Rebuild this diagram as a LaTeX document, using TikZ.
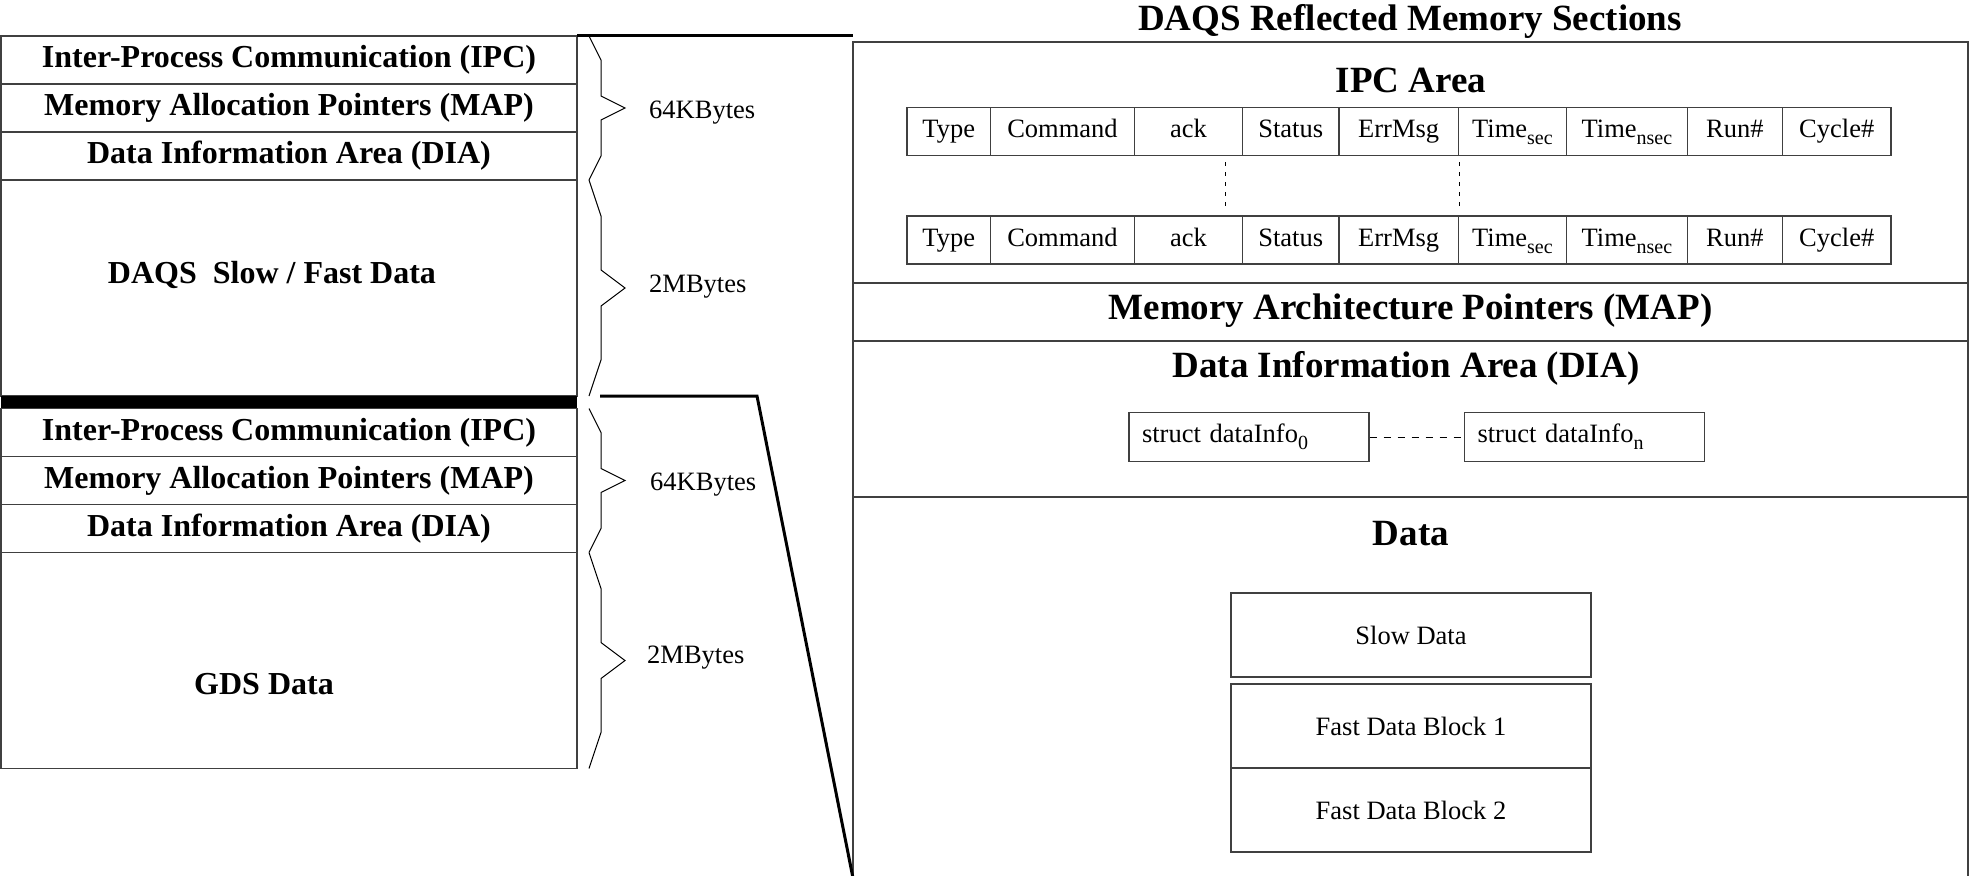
\documentclass[tikz,border=0pt]{standalone}
\usepackage{fontspec}
\setmainfont{Liberation Serif}
\usetikzlibrary{positioning}
\newcommand{\lowsub}[1]{\raisebox{-7pt}{\fontsize{20}{22}\selectfont #1}}
\tikzset{
	memrow/.style={draw=black!75,line width=1.3pt,rectangle,minimum width=576pt,minimum height=48pt,inner sep=0pt,outer sep=0pt,font=\fontsize{32}{36}\selectfont\bfseries},
	memtext/.style={inner sep=0pt,font=\fontsize{32}{36}\selectfont\bfseries},
	rmsect/.style={draw=black!75,line width=1.3pt,rectangle,minimum width=1115pt,inner sep=0pt,outer sep=0pt},
	sechead/.style={inner sep=0pt,font=\fontsize{37}{42}\selectfont\bfseries},
	ipccell/.style={draw=black!75,line width=1.3pt,rectangle,minimum height=48pt,inner sep=0pt,text height=18pt,text depth=6pt,font=\fontsize{26.5}{30}\selectfont},
	infobox/.style={draw=black!75,line width=1.3pt,rectangle,minimum height=48.6pt,text width=214pt,align=left,inner xsep=13pt,inner ysep=0pt,font=\fontsize{26.5}{30}\selectfont},
	datablk/.style={draw=black!75,line width=1.3pt,rectangle,minimum width=360pt,minimum height=84pt,inner sep=0pt,outer sep=0pt,font=\fontsize{26.5}{30}\selectfont},
	sizelbl/.style={anchor=west,inner sep=0pt,font=\fontsize{26.5}{30}\selectfont},
	curly/.style={line width=1pt},
	zoomln/.style={line width=3pt,line join=miter},
	dots/.style={line width=1pt,dash pattern=on 4pt off 6pt}
}
\begin{document}
\begin{tikzpicture}[x=1pt,y=-1pt]
	\useasboundingbox (0,0) rectangle (1969,875);
	\node[memrow] (ipc1) at (289,60) {Inter-Process Communication (IPC)};
	\node[memrow,below=0pt of ipc1] (map1) {Memory Allocation Pointers (MAP)};
	\node[memrow,below=0pt of map1] (dia1) {Data Information Area (DIA)};
	\node[memrow,minimum height=216pt,below=0pt of dia1] (slowfast) {};
	\node[memtext] (slowfasttxt) at (272,275) {DAQS\ \ Slow / Fast Data};
	\node[fill=black,minimum width=576pt,minimum height=12.5pt,inner sep=0pt,outer sep=0pt,below=0pt of slowfast] (sep) {};
	\node[memrow,below=0pt of sep] (ipc2) {Inter-Process Communication (IPC)};
	\node[memrow,below=0pt of ipc2] (map2) {Memory Allocation Pointers (MAP)};
	\node[memrow,below=0pt of map2] (dia2) {Data Information Area (DIA)};
	\node[memrow,minimum height=216pt,below=0pt of dia2] (gds) {};
	\node[memtext] (gdstxt) at (264,684) {GDS Data};
	
	\foreach \ya/\yb in {36/180,180/396,408.5/552.5,552.5/768.5} {
		\pgfmathsetmacro{\h}{\yb-\ya}
		\pgfmathsetmacro{\ym}{(\ya+\yb)/2}
		\draw[curly] (589,\ya) -- (601,{\ya+\h/6}) -- (601,{\ym-\h/12}) -- (625,\ym) -- (601,{\ym+\h/12}) -- (601,{\yb-\h/6}) -- (589,\yb);
	}
	\node[sizelbl] (kb1) at (649,112.7) {64KBytes};
	\node[sizelbl] (mb1) at (649,286.7) {2MBytes};
	\node[sizelbl] (kb2) at (650,485) {64KBytes};
	\node[sizelbl] (mb2) at (647,658) {2MBytes};
	
	\node[sechead] (title) at (1410,21) {DAQS Reflected Memory Sections};
	\node[rmsect,minimum height=241pt] (ipcarea) at (1410.5,162.5) {};
	\node[rmsect,minimum height=58pt,below=0pt of ipcarea] (mapsec) {};
	\node[rmsect,minimum height=156pt,below=0pt of mapsec] (diasec) {};
	\node[rmsect,minimum height=381pt,below=0pt of diasec] (datasec) {};
	\node[sechead] (ipchead) at (1411,80) {IPC Area};
	\node[sechead] (maphead) at (1410.5,311) {Memory Architecture Pointers (MAP)};
	\node[sechead] (diahead) at (1406,368) {Data Information Area (DIA)};
	\node[sechead] (datahead) at (1411,534) {Data};
	
	\foreach \a/\b/\t [count=\i] in {907/990.5/Type,990.5/1134.5/Command,1134.5/1242.4/ack,1242.4/1338.9/Status,1338.9/1458.4/ErrMsg,1458.4/1566.4/Time\lowsub{sec},1566.4/1687.4/Time\lowsub{nsec},1687.4/1782.4/Run\#,1782.4/1891.1/Cycle\#} {
		\node[ipccell,minimum width={(\b-\a)*1pt}] (top\i) at ({(\a+\b)/2},131.7) {\t};
		\node[ipccell,minimum width={(\b-\a)*1pt}] (bot\i) at ({(\a+\b)/2},240) {\t};
	}
	\draw[dots] ([xshift=-17.4pt,yshift=-6pt]top3.south east) -- ([xshift=-17.4pt,yshift=5pt]bot3.north east);
	\draw[dots] ([yshift=-6pt]top5.south east) -- ([yshift=5pt]bot5.north east);
	
	\node[infobox] (info0) at (1249,437) {struct dataInfo\lowsub{0}};
	\node[infobox] (infon) at (1584.5,437) {struct dataInfo\lowsub{n}};
	\draw[line width=1pt,dash pattern=on 7pt off 7pt] (info0) -- (infon);
	
	\node[datablk] (slow) at (1411,635) {Slow Data};
	\node[datablk,below=7pt of slow] (fast1) {Fast Data Block 1};
	\node[datablk,below=0pt of fast1] (fast2) {Fast Data Block 2};
	
	\draw[zoomln] (ipc1.north east) -- (ipc1.north east -| ipcarea.west);
	\draw[zoomln] ([xshift=23pt]sep.north east) -- ++(157,0) -- (datasec.south west);
\end{tikzpicture}
\end{document}
